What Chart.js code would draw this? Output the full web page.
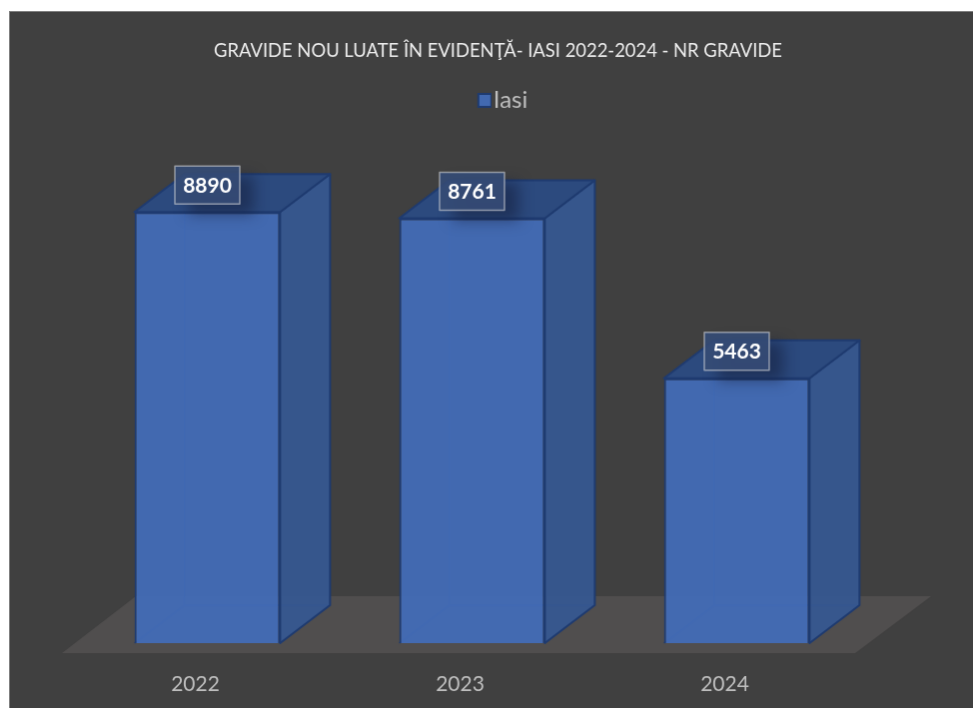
<!DOCTYPE html>
<html>
<head>
<meta charset="utf-8">
<title>Gravide Iasi</title>
<script src="https://cdn.jsdelivr.net/npm/chart.js@4"></script>
<style>
  html, body { margin: 0; padding: 0; background: #fff; overflow: hidden; }
  #grafic { position: absolute; left: 9px; top: 11px; background: #404040;
            border-left: 1px solid #7f7f7f; border-top: 1px solid #7f7f7f; }
</style>
</head>
<body>
<canvas id="grafic" width="964" height="697"></canvas>
<script>
// datele graficului
const ani = ['2022', '2023', '2024'];
const gravide = [8890, 8761, 5463];
const titlu = 'GRAVIDE NOU LUATE ÎN EVIDENŢĂ- IASI 2022-2024 - NR GRAVIDE';
const numeSerie = 'Iasi';

const FONT = 'Lato, "Open Sans", sans-serif';
const CONTUR = '#1f3b70';
const ALBASTRU = 'rgba(67,109,185,0.93)';

// patratelul din legenda, mai aproape de text decat lasa Chart.js implicit
function simbolLegenda() {
  const c = document.createElement('canvas');
  c.width = 33;
  c.height = 16;
  const g = c.getContext('2d');
  g.fillStyle = ALBASTRU;
  g.strokeStyle = CONTUR;
  g.lineWidth = 2;
  g.fillRect(20, 2, 13, 13);
  g.strokeRect(20, 2, 13, 13);
  return c;
}

// axele y sunt invizibile, tin doar locul pe laturi
function axaAscunsa(latime, extra) {
  return Object.assign({
    grid: { display: false },
    border: { display: false },
    ticks: { display: false },
    min: 0,
    max: 10750,
    afterFit(scale) { scale.width = latime; }
  }, extra);
}

// podeaua si fetele din spate ale coloanelor (sub bare)
const fundal3d = {
  id: 'fundal3d',
  beforeDatasetsDraw(chart) {
    const { ctx, chartArea: a } = chart;
    const x0 = a.left - 13, x1 = a.right - 14, y0 = a.bottom + 10;
    ctx.save();
    ctx.fillStyle = '#504e4e';
    ctx.beginPath();
    ctx.moveTo(x0, y0);
    ctx.lineTo(x0 + 74, y0 - 57);
    ctx.lineTo(x1 + 76, y0 - 57);
    ctx.lineTo(x1, y0);
    ctx.closePath();
    ctx.fill();
    // muchiile din spate, se vad slab prin fata
    chart.getDatasetMeta(0).data.forEach(bar => {
      const l = bar.x - bar.width / 2, r = bar.x + bar.width / 2;
      ctx.strokeStyle = 'rgba(31,59,112,0.8)';
      ctx.lineWidth = 1.5;
      ctx.beginPath();
      ctx.moveTo(l, a.bottom);
      ctx.lineTo(l + 50, a.bottom - 38);
      ctx.lineTo(r + 50, a.bottom - 38);
      ctx.moveTo(l + 50, a.bottom - 38);
      ctx.lineTo(l + 50, bar.y - 38);
      ctx.stroke();
    });
    ctx.restore();
  }
};

// fata laterala, capacul si etichetele cu valori
const fete3d = {
  id: 'fete3d',
  afterDatasetsDraw(chart) {
    const { ctx, chartArea: a } = chart;
    const bars = chart.getDatasetMeta(0).data;
    ctx.save();
    bars.forEach(bar => {
      const l = bar.x - bar.width / 2, r = bar.x + bar.width / 2, t = bar.y, b = a.bottom;
      ctx.lineWidth = 2;
      ctx.lineJoin = 'round';
      ctx.strokeStyle = CONTUR;
      ctx.fillStyle = 'rgba(54,88,146,0.93)';
      ctx.beginPath();
      ctx.moveTo(r, t);
      ctx.lineTo(r + 50, t - 38);
      ctx.lineTo(r + 50, b - 38);
      ctx.lineTo(r, b);
      ctx.closePath();
      ctx.fill();
      ctx.stroke();
      ctx.fillStyle = '#2c4a7e';
      ctx.beginPath();
      ctx.moveTo(l, t);
      ctx.lineTo(l + 50, t - 38);
      ctx.lineTo(r + 50, t - 38);
      ctx.lineTo(r, t);
      ctx.closePath();
      ctx.fill();
      ctx.stroke();
    });
    bars.forEach((bar, i) => {
      const w = 65, h = 38, x = bar.x - w / 2, y = bar.y - 46;
      ctx.save();
      ctx.shadowColor = 'rgba(20,30,60,0.6)';
      ctx.shadowBlur = 14;
      ctx.shadowOffsetX = 14;
      ctx.shadowOffsetY = 10;
      ctx.fillStyle = 'rgba(50,78,130,0.9)';
      ctx.fillRect(x, y, w, h);
      ctx.restore();
      ctx.fillStyle = 'rgba(64,64,64,0.18)';
      ctx.fillRect(x, y, w, h);
      ctx.strokeStyle = 'rgba(225,225,225,0.55)';
      ctx.lineWidth = 1.5;
      ctx.strokeRect(x, y, w, h);
      ctx.fillStyle = '#ffffff';
      ctx.font = 'bold 21px ' + FONT;
      ctx.textAlign = 'center';
      ctx.textBaseline = 'middle';
      ctx.fillText(String(gravide[i]), bar.x, y + h / 2 + 1);
    });
    ctx.restore();
  }
};

new Chart(document.getElementById('grafic'), {
  type: 'bar',
  data: {
    labels: ani,
    datasets: [{
      label: numeSerie,
      data: gravide,
      backgroundColor: ALBASTRU,
      borderColor: CONTUR,
      borderWidth: 2,
      categoryPercentage: 1,
      barPercentage: 0.55
    }]
  },
  options: {
    responsive: false,
    animation: false,
    layout: { padding: { left: 13, right: 0, top: 0, bottom: 0 } },
    plugins: {
      tooltip: { enabled: false },
      title: {
        display: true,
        text: titlu,
        color: '#ececec',
        font: { family: FONT, size: 18.4, weight: 'normal' },
        padding: { top: 28.5, bottom: 7.4 }
      },
      legend: {
        position: 'top',
        labels: {
          color: '#bfbfbf',
          font: { family: FONT, size: 24 },
          usePointStyle: true,
          pointStyle: simbolLegenda(),
          boxWidth: 13,
          boxHeight: 13,
          padding: 18
        }
      }
    },
    scales: {
      x: {
        grid: { display: false },
        border: { display: false },
        ticks: { color: '#bfbfbf', font: { family: FONT, size: 21 }, padding: 21, labelOffset: -12, maxRotation: 0 },
        afterFit(scale) { scale.height = 65; }
      },
      y: axaAscunsa(52, {}),
      yDreapta: axaAscunsa(104, { position: 'right' })
    }
  },
  plugins: [fundal3d, fete3d]
});
</script>
</body>
</html>
